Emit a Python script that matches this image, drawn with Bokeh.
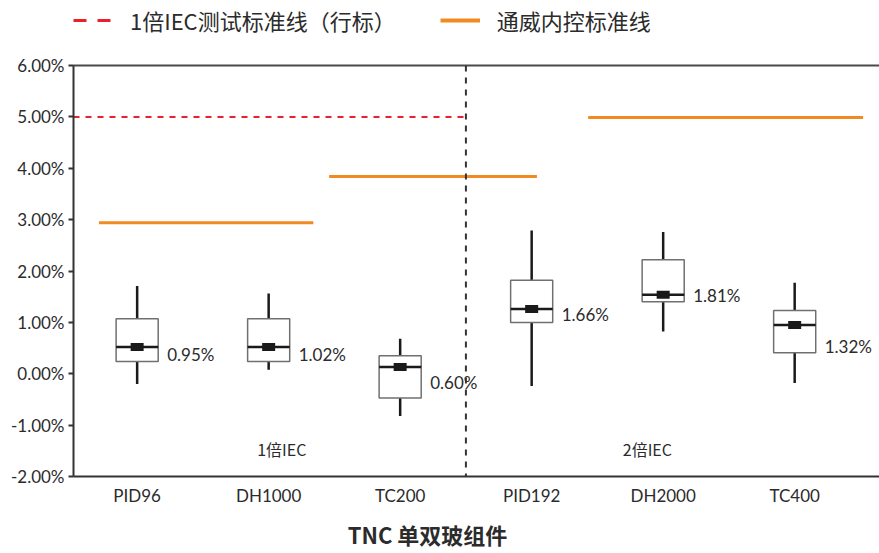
from bokeh.plotting import figure
from bokeh.layouts import column
from bokeh.models import (Range1d, FixedTicker, PrintfTickFormatter, LinearAxis,
                          Legend, LegendItem, ColumnDataSource, Span)
from bokeh.core.properties import value
from bokeh.embed import file_html
from bokeh.resources import INLINE

# ---------------- data ----------------
categories = ["PID96", "DH1000", "TC200", "PID192", "DH2000", "TC400"]
whisker_low = [-0.20, 0.08, -0.82, -0.24, 0.82, -0.18]
q1 = [0.24, 0.24, -0.47, 1.00, 1.40, 0.41]
median = [0.52, 0.52, 0.13, 1.26, 1.54, 0.95]
q3 = [1.07, 1.07, 0.35, 1.82, 2.22, 1.23]
whisker_high = [1.71, 1.56, 0.68, 2.79, 2.76, 1.77]
value_labels = ["0.95%", "1.02%", "0.60%", "1.66%", "1.81%", "1.32%"]
value_label_y = [0.38, 0.38, -0.18, 1.15, 1.52, 0.54]

group_labels = ["1倍IEC", "2倍IEC"]
group_label_x = [1.1, 3.88]
group_label_y = [-1.47, -1.47]

iec_limit = 5.0                        # 1倍IEC测试标准线（行标）
internal_limits = [2.94, 3.84, 4.99]   # 通威内控标准线
internal_start = [-0.29, 1.46, 3.43]
internal_end = [1.34, 3.04, 5.52]

y_ticks = [-2, -1, 0, 1, 2, 3, 4, 5, 6]

legend_labels = ["1倍IEC测试标准线（行标）", "通威内控标准线"]
x_title = "TNC 单双玻组件"

# ---------------- styles ----------------
FONT = "Lato, 'Noto Sans CJK SC', sans-serif"
CJK = "'Noto Sans CJK SC', Lato, sans-serif"
TEXT = "#2b2b2b"
RED = "#e8212b"
ORANGE = "#f28a22"
BOX_HALF = 0.16

xs = list(range(len(categories)))
X_START, X_END = -0.484, 5.645
divider = (xs[2] + xs[3]) / 2

# ---------------- legend strip ----------------
leg = figure(width=879, height=40, output_backend="svg", toolbar_location=None,
             x_range=Range1d(0, 1), y_range=Range1d(0, 1),
             x_axis_location=None, y_axis_location=None, min_border=0)
leg.grid.visible = False
leg.outline_line_color = None
# proxy renderers lying outside the visible range, used only for legend glyphs
r_red = leg.line(x=[-3, -2], y=[-3, -2], line_color=RED, line_width=3, line_dash="13 11")
r_or = leg.line(x=[-3, -2], y=[-3, -2], line_color=ORANGE, line_width=4)
legend = Legend(items=[LegendItem(label=legend_labels[0], renderers=[r_red]),
                       LegendItem(label=legend_labels[1], renderers=[r_or])],
                orientation="horizontal", location="left",
                border_line_color=None, background_fill_alpha=0,
                label_text_font=CJK, label_text_font_size="22px",
                label_text_color=TEXT, glyph_width=40, label_standoff=17,
                spacing=44, padding=0, margin=0)
leg.add_layout(legend, "center")

# ---------------- main plot ----------------
p = figure(width=879, height=469, output_backend="svg", toolbar_location=None,
           x_range=Range1d(X_START, X_END), y_range=Range1d(-2, 6),
           min_border_left=73, min_border_right=0, min_border_top=25,
           min_border_bottom=33)
p.grid.visible = False
p.outline_line_color = None

src = ColumnDataSource(dict(
    x=xs, left=[x - BOX_HALF for x in xs], right=[x + BOX_HALF for x in xs],
    lo=whisker_low, q1=q1, med=median, q3=q3, hi=whisker_high,
    lab=value_labels, laby=value_label_y))

# standard lines
p.segment(x0=[X_START], y0=[iec_limit], x1=[divider], y1=[iec_limit],
          line_color=RED, line_width=2, line_dash="6 6")
p.segment(x0=internal_start, y0=internal_limits, x1=internal_end, y1=internal_limits,
          line_color=ORANGE, line_width=3)

# group divider
p.add_layout(Span(location=divider, dimension="height", line_color="#333333",
                  line_width=2, line_dash="6 6"))

# whiskers
p.segment(x0="x", y0="q3", x1="x", y1="hi", source=src, line_color="#1a1a1a", line_width=2.5)
p.segment(x0="x", y0="q1", x1="x", y1="lo", source=src, line_color="#1a1a1a", line_width=2.5)
# boxes
p.quad(left="left", right="right", top="q3", bottom="q1", source=src,
       fill_color="white", line_color="#707070", line_width=1.5)
# median
p.segment(x0="left", y0="med", x1="right", y1="med", source=src,
          line_color="#1a1a1a", line_width=2.5)
p.rect(x="x", y="med", width=13, height=8, width_units="screen", height_units="screen",
       source=src, fill_color="#1a1a1a", line_color=None)

# value labels
p.text(x="x", y="laby", text="lab", source=src, x_offset=30, text_align="left",
       text_baseline="middle", text_font=value(FONT), text_font_size="17px",
       text_color=TEXT)

# group labels
p.text(x=group_label_x, y=group_label_y, text=group_labels, text_align="center",
       text_baseline="middle", text_font=value(CJK), text_font_size="16px",
       text_color=TEXT)

# axes
p.yaxis.ticker = FixedTicker(ticks=y_ticks)
p.yaxis.formatter = PrintfTickFormatter(format="%.2f%%")
p.yaxis.axis_line_width = 2
p.yaxis.axis_line_color = "#333333"
p.yaxis.major_tick_out = 5
p.yaxis.major_tick_in = 0
p.yaxis.major_tick_line_width = 2
p.yaxis.major_tick_line_color = "#333333"
p.yaxis.minor_tick_line_color = None
p.yaxis.major_label_standoff = 4
p.yaxis.major_label_text_font = FONT
p.yaxis.major_label_text_font_size = "17px"
p.yaxis.major_label_text_color = TEXT

p.xaxis.ticker = FixedTicker(ticks=xs)
p.xaxis.major_label_overrides = {x: c for x, c in zip(xs, categories)}
p.xaxis.axis_line_width = 2
p.xaxis.axis_line_color = "#333333"
p.xaxis.major_tick_line_color = None
p.xaxis.major_tick_out = 0
p.xaxis.major_tick_in = 0
p.xaxis.minor_tick_line_color = None
p.xaxis.major_label_standoff = 8
p.xaxis.major_label_text_font = FONT
p.xaxis.major_label_text_font_size = "17px"
p.xaxis.major_label_text_color = TEXT

top_axis = LinearAxis(ticker=FixedTicker(ticks=[]), axis_line_width=2,
                      axis_line_color="#4a4a4a", major_label_text_font_size="0px",
                      major_label_standoff=0, major_tick_out=0, major_tick_in=0,
                      major_tick_line_color=None, minor_tick_line_color=None)
p.add_layout(top_axis, "above")

# ---------------- x-title strip ----------------
ttl = figure(width=879, height=44, output_backend="svg", toolbar_location=None,
             x_range=Range1d(0, 1), y_range=Range1d(0, 1),
             x_axis_location=None, y_axis_location=None, min_border=0)
ttl.grid.visible = False
ttl.outline_line_color = None
ttl.text(x=[0.5], y=[0.45], text=[x_title], x_offset=-49, text_align="center",
         text_baseline="middle", text_font=value(CJK), text_font_size="22px",
         text_font_style="bold", text_color=TEXT)

open("out.html", "w").write(file_html(column(leg, p, ttl, spacing=0), INLINE))
